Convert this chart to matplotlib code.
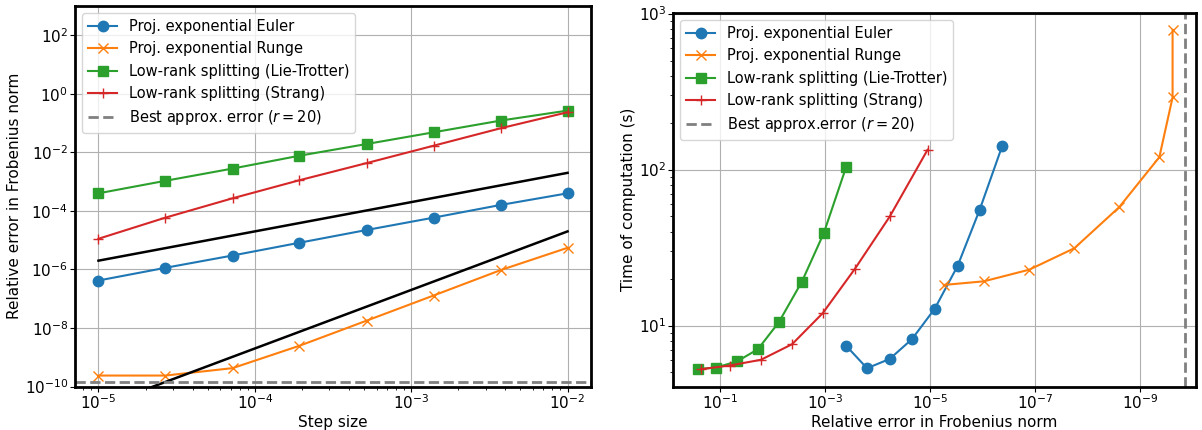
import numpy as np
import matplotlib.pyplot as plt
from matplotlib.ticker import NullLocator

# step sizes (log-spaced)
step_sizes = [1e-5, 2.68e-5, 7.2e-5, 1.93e-4, 5.18e-4, 1.39e-3, 3.73e-3, 1e-2]

# relative errors for each method
err_euler = [4.2e-7, 1.14e-6, 3.0e-6, 8.2e-6, 2.23e-5, 5.9e-5, 1.6e-4, 4.0e-4]
err_runge = [2.38e-10, 2.38e-10, 4.26e-10, 2.48e-9, 1.78e-8, 1.29e-7, 9.5e-7, 5.5e-6]
err_lie = [4.0e-4, 1.07e-3, 2.8e-3, 7.7e-3, 0.0193, 0.0485, 0.122, 0.268]
err_strang = [1.12e-5, 5.9e-5, 2.7e-4, 1.12e-3, 4.3e-3, 0.0169, 0.0666, 0.235]

# computation times (s)
time_euler = [142.6, 55.1, 24.1, 12.8, 8.17, 6.11, 5.32, 7.41]
time_runge = [785, 290, 120, 57.4, 31.3, 22.8, 19.2, 18.2]
time_lie = [104, 39.1, 19.1, 10.5, 7.05, 5.88, 5.38, 5.25]
time_strang = [134, 50.0, 23.2, 12.0, 7.59, 6.03, 5.54, 5.25]

# reference slopes (endpoints) and best approximation error
ref_x = [1e-5, 1e-2]
ref_order1 = [2e-6, 2e-3]
ref_order2 = [2e-11, 2e-5]
best_err = 1.4e-10

plt.rcParams['xtick.major.pad'] = 1.5
plt.rcParams['ytick.major.pad'] = 1.5
plt.rcParams['axes.labelpad'] = 2
plt.rcParams['xtick.labelsize'] = 11
plt.rcParams['ytick.labelsize'] = 11
plt.rcParams['axes.labelsize'] = 11

fig = plt.figure(figsize=(12.02, 4.30), dpi=100)
ax1 = fig.add_axes([0.0624, 0.101, 0.4293, 0.885])
ax2 = fig.add_axes([0.560, 0.101, 0.435, 0.869])

ms = 7.5

#----- left: error vs step size -----#
ax1.loglog(step_sizes, err_euler, 'o-', color='tab:blue', ms=ms, label='Proj. exponential Euler')
ax1.loglog(step_sizes, err_runge, 'x-', color='tab:orange', ms=ms, label='Proj. exponential Runge')
ax1.loglog(step_sizes, err_lie, 's-', color='tab:green', ms=ms, label='Low-rank splitting (Lie-Trotter)')
ax1.loglog(step_sizes, err_strang, '+-', color='tab:red', ms=ms, label='Low-rank splitting (Strang)')
ax1.loglog(ref_x, ref_order1, '-', color='black', lw=1.8)
ax1.loglog(ref_x, ref_order2, '-', color='black', lw=1.8)
ax1.axhline(best_err, color='gray', ls='--', lw=2, label='Best approx. error ($r=20$)')
ax1.set_ylim(1e-10, 1e3)
ax1.set_yticks([1e-10, 1e-8, 1e-6, 1e-4, 1e-2, 1e0, 1e2])
ax1.yaxis.set_minor_locator(NullLocator())
ax1.set_xlabel('Step size')
ax1.set_ylabel('Relative error in Frobenius norm')
ax1.grid(True)
ax1.legend(loc='upper left', fontsize=10.5)

#----- right: time vs error -----#
ax2.loglog(err_euler, time_euler, 'o-', color='tab:blue', ms=ms, label='Proj. exponential Euler')
ax2.loglog(err_runge, time_runge, 'x-', color='tab:orange', ms=ms, label='Proj. exponential Runge')
ax2.loglog(err_lie, time_lie, 's-', color='tab:green', ms=ms, label='Low-rank splitting (Lie-Trotter)')
ax2.loglog(err_strang, time_strang, '+-', color='tab:red', ms=ms, label='Low-rank splitting (Strang)')
ax2.axvline(best_err, color='gray', ls='--', lw=2, label='Best approx.error ($r=20$)')
ax2.set_xlim(10**-0.097, 10**-10.07)
ax2.set_ylim(4.06, 1010)
ax2.set_xticks([1e-1, 1e-3, 1e-5, 1e-7, 1e-9])
ax2.xaxis.set_minor_locator(NullLocator())
ax2.set_xlabel('Relative error in Frobenius norm')
ax2.set_ylabel('Time of computation (s)')
ax2.grid(True)
ax2.legend(loc='upper left', fontsize=10.5)

for ax in (ax1, ax2):
    for sp in ax.spines.values():
        sp.set_linewidth(2)

fig.savefig('out.png', dpi=100)
